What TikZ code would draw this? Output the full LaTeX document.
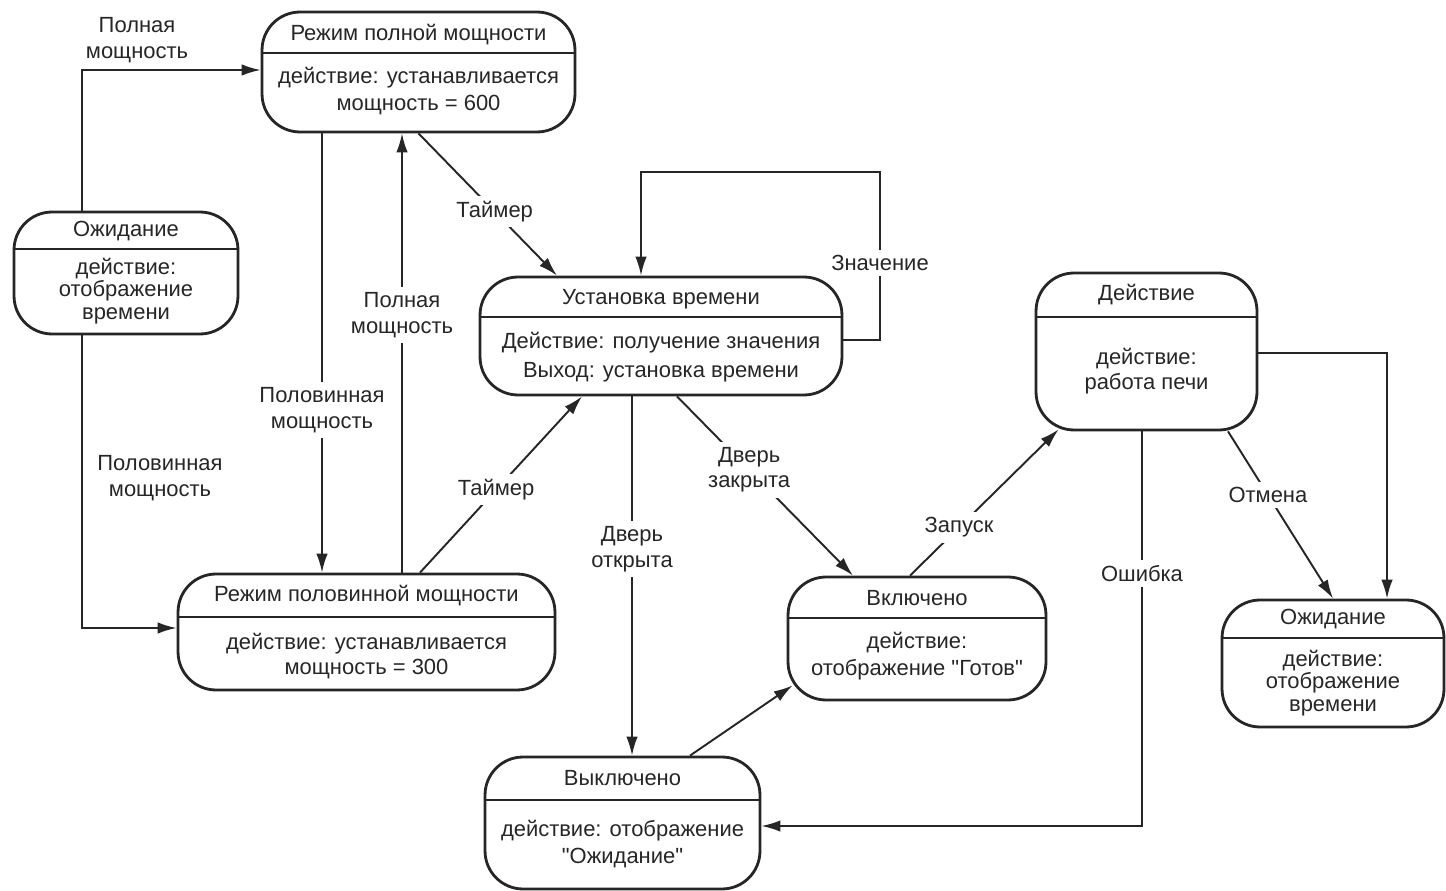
\documentclass[tikz,border=0pt]{standalone}
\usepackage{fontspec}
\setmainfont{Liberation Sans}
\usetikzlibrary{arrows.meta,calc}

\tikzset{
  state/.style={draw=black!85, line width=1.6pt, rounded corners=0.76cm, inner sep=0pt},
  divider/.style={draw=black!85, line width=1.2pt},
  txt/.style={text=black!85, font=\fontsize{12.5}{14.5}\selectfont, align=center, inner sep=1pt},
  lbl/.style={txt, fill=white, inner sep=3pt},
  tr/.style={draw=black!85, line width=1.1pt, -{Latex[length=3.8mm,width=2.3mm]}},
}

\begin{document}
\begin{tikzpicture}[x=0.02cm, y=-0.02cm]
\useasboundingbox (0,0) rectangle (1446,891);

% Режим полной мощности
\node[state, minimum width=6.26cm, minimum height=2.4cm] (full) at (418.5,72) {};
\draw[divider] (full.west |- 0,53) -- (full.east |- 0,53);
\node[txt] (fullT) at (418.5,35) {Режим полной мощности};
\node[txt] (fullB) at (418.5,91) {действие: устанавливается\\[1pt]мощность = 600};

% Ожидание (слева)
\node[state, minimum width=4.48cm, minimum height=2.44cm] (idle1) at (126,273) {};
\draw[divider] (idle1.west |- 0,249) -- (idle1.east |- 0,249);
\node[txt] (idle1T) at (126,231) {Ожидание};
\node[txt, font=\fontsize{12.5}{13}\selectfont] (idle1B) at (126,291) {действие:\\отображение\\времени};

% Установка времени
\node[state, minimum width=7.24cm, minimum height=2.36cm] (settime) at (661,336) {};
\draw[divider] (settime.west |- 0,317) -- (settime.east |- 0,317);
\node[txt] (settimeT) at (661,299) {Установка времени};
\node[txt] (settimeB) at (661,357) {Действие: получение значения\\[2pt]Выход: установка времени};

% Режим половинной мощности
\node[state, minimum width=7.54cm, minimum height=2.32cm] (half) at (366.5,632) {};
\draw[divider] (half.west |- 0,617) -- (half.east |- 0,617);
\node[txt] (halfT) at (366.5,596) {Режим половинной мощности};
\node[txt] (halfB) at (366.5,656) {действие: устанавливается\\мощность = 300};

% Действие
\node[state, minimum width=4.42cm, minimum height=3.14cm] (action) at (1146.5,351.5) {};
\draw[divider] (action.west |- 0,317) -- (action.east |- 0,317);
\node[txt] (actionT) at (1146.5,295) {Действие};
\node[txt] (actionB) at (1146.5,371) {действие:\\работа печи};

% Включено
\node[state, minimum width=5.16cm, minimum height=2.46cm] (on) at (917,638.5) {};
\draw[divider] (on.west |- 0,618) -- (on.east |- 0,618);
\node[txt] (onT) at (917,598) {Включено};
\node[txt] (onB) at (917,656) {действие:\\[1pt]отображение \textquotedbl Готов\textquotedbl};

% Ожидание (справа)
\node[state, minimum width=4.44cm, minimum height=2.54cm] (idle2) at (1333,663.5) {};
\draw[divider] (idle2.west |- 0,638) -- (idle2.east |- 0,638);
\node[txt] (idle2T) at (1333,619) {Ожидание};
\node[txt, font=\fontsize{12.5}{13}\selectfont] (idle2B) at (1333,683) {действие:\\отображение\\времени};

% Выключено
\node[state, minimum width=5.5cm, minimum height=2.64cm] (off) at (622.5,823) {};
\draw[divider] (off.west |- 0,800) -- (off.east |- 0,800);
\node[txt] (offT) at (622.5,778) {Выключено};
\node[txt] (offB) at (622.5,844) {действие: отображение\\[1pt]\textquotedbl Ожидание\textquotedbl};

% переходы
\draw[tr] (82,0 |- idle1.north) |- (full.west |- 0,70);
\node[txt] (lblA) at (137,40) {Полная\\мощность};
\draw[tr] (82,0 |- idle1.south) |- (half.west |- 0,628);
\node[txt] (lblB) at (160,478) {Половинная\\мощность};
\draw[tr] (322,0 |- full.south) -- node[lbl, pos=0.63] (lblC) {Половинная\\мощность} (322,0 |- half.north);
\draw[tr] (402,0 |- half.north) -- node[lbl, pos=0.586] (lblD) {Полная\\мощность} (402,0 |- full.south);
\draw[tr] (full.south) -- node[lbl, pos=0.55] (lblE) {Таймер} (557,0 |- settime.north);
\draw[tr] (settime.east |- 0,340) -- (880,340) -- node[lbl, pos=0.46] (lblF) {Значение} (880,172) -| (641,0 |- settime.north);
\draw[tr] (420,0 |- half.north) -- node[lbl, pos=0.47] (lblG) {Таймер} (582,0 |- settime.south);
\draw[tr] (632,0 |- settime.south) -- node[lbl, pos=0.425] (lblH) {Дверь\\открыта} (632,0 |- off.north);
\draw[tr] (677,0 |- settime.south) -- node[lbl, pos=0.41] (lblI) {Дверь\\закрыта} (853,0 |- on.north);
\draw[tr] (690,0 |- off.north) -- ($(on.south west)+(6,-16)$);
\draw[tr] (910,0 |- on.north) -- node[lbl, pos=0.33] (lblJ) {Запуск} ($(action.south west)+(24,-2)$);
\draw[tr] (1142,0 |- action.south) -- node[lbl, pos=0.36] (lblK) {Ошибка} (1142,826) -- (off.east |- 0,826);
\draw[tr] (1228,0 |- action.south) -- node[lbl, pos=0.38] (lblL) {Отмена} (idle2.north);
\draw[tr] (action.east |- 0,353) -| (1387,0 |- idle2.north);

\end{tikzpicture}
\end{document}
